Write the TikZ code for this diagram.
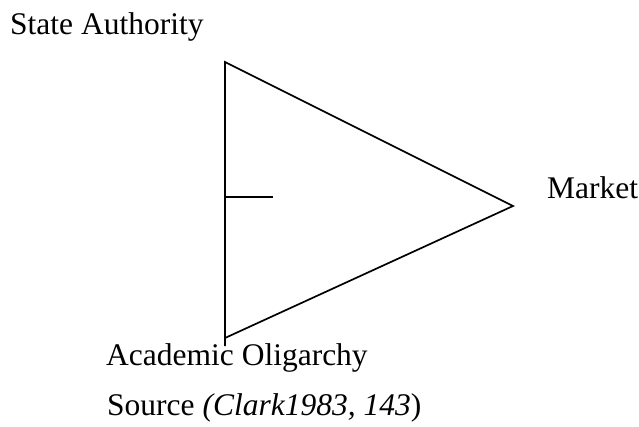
\documentclass[tikz,border=0pt]{standalone}
\usepackage{fontspec}
\setmainfont{Liberation Serif}
\begin{document}
\begin{tikzpicture}[x=1pt,y=-1pt,
  lbl/.style={anchor=base west,inner sep=0pt,font=\fontsize{31.5}{37}\selectfont},
  edge/.style={line width=1.7pt,line join=miter}]
\useasboundingbox (0,0) rectangle (639,426);
\coordinate (top) at (225,62);
\coordinate (bot) at (225,338);
\coordinate (botext) at (225,346);
\coordinate (rgt) at (513,206);
\coordinate (tickL) at (225,197);
\coordinate (tickR) at (273,197);
\draw[edge] (botext) -- (top) -- (rgt) -- (bot);
\draw[edge] (tickL) -- (tickR);
\node[lbl] (state) at (10,34) {State Authority};
\node[lbl] (market) at (547,198) {Market};
\node[lbl] (acad) at (106,365) {Academic Oligarchy};
\node[lbl] (src) at (107,415) {Source \textit{(Clark1983, 143}\/)};
\end{tikzpicture}
\end{document}
